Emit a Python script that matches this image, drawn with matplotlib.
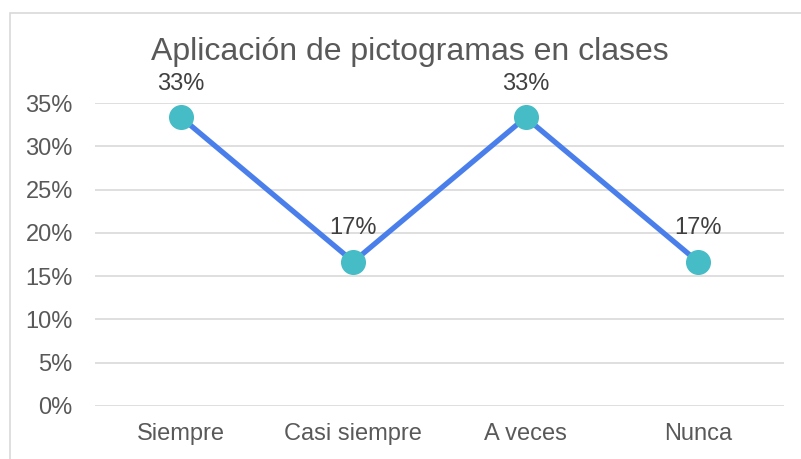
import matplotlib.pyplot as plt
from matplotlib.patches import Rectangle
from matplotlib.ticker import PercentFormatter

plt.rcParams['font.family'] = ['Liberation Sans', 'DejaVu Sans']

categories = ["Siempre", "Casi siempre", "A veces", "Nunca"]
values = [33.33, 16.67, 33.33, 16.67]
labels = ["33%", "17%", "33%", "17%"]

fig = plt.figure(figsize=(8.01, 4.59), dpi=100)
ax = fig.add_axes([95/801, 1-406/459, (784-95)/801, (406-103)/459])

gray = "#595959"
x = range(len(categories))
ax.plot(x, values, color="#4A7FEB", lw=3.8, marker="o", ms=17,
        mfc="#45BCC6", mec="#45BCC6", zorder=3, solid_capstyle="butt")
for i, (v, t) in enumerate(zip(values, labels)):
    ax.annotate(t, (i, v), xytext=(0, 16), textcoords="offset points",
                ha="center", va="bottom", fontsize=17, color="#404040")

ax.set_xlim(-0.5, len(categories) - 0.5)
ax.set_ylim(0, 35)
ax.set_yticks(range(0, 36, 5))
ax.yaxis.set_major_formatter(PercentFormatter(decimals=0))
ax.set_xticks(list(x))
ax.set_xticklabels(categories)
ax.grid(axis="y", color="#D9D9D9", lw=1.2)
ax.set_axisbelow(True)
for s in ax.spines.values():
    s.set_visible(False)
ax.tick_params(length=0, labelsize=17, colors=gray, pad=12)
ax.tick_params(axis="y", pad=16)

fig.text(410/801, 1-52/459, "Aplicación de pictogramas en clases", ha="center",
         va="center", fontsize=23, color=gray)

fig.patches.append(Rectangle((10/801, -0.1), 1.2, 1 - 13/459 + 0.1,
                             transform=fig.transFigure, fill=False,
                             ec="#D9D9D9", lw=1.2))

fig.savefig("out.png", dpi=100)
